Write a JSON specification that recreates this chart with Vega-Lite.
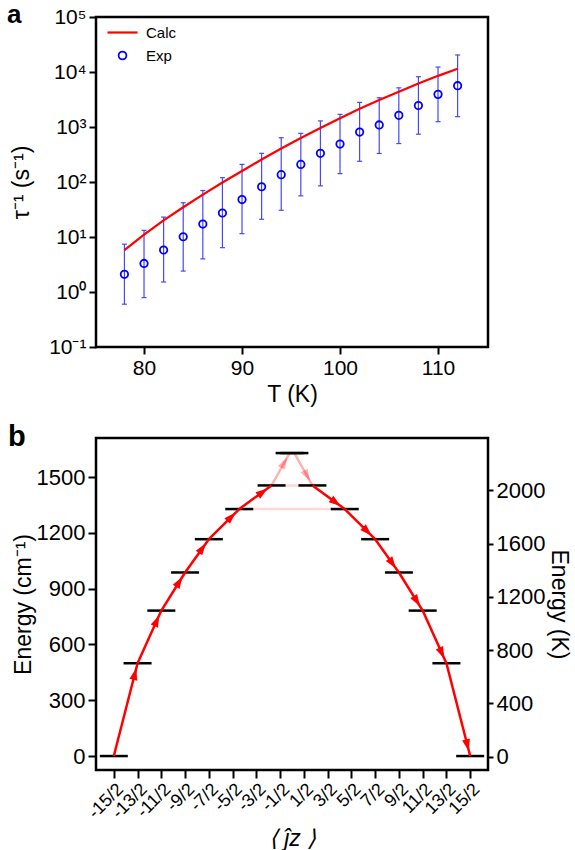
{
  "$schema": "https://vega.github.io/schema/vega-lite/v6.json",
  "background": "white",
  "padding": {"left": 5, "top": 0, "right": 5, "bottom": 0},
  "autosize": {"type": "pad"},
  "bounds": "flush",
  "spacing": 91,
  "config": {
    "font": "Liberation Sans",
    "view": {"stroke": "black", "strokeWidth": 2.5},
    "axis": {"domain": false, "grid": false, "tickColor": "black", "tickWidth": 2, "tickSize": 7, "labelColor": "black", "titleColor": "black", "labelFont": "Liberation Sans", "titleFont": "Liberation Sans", "labelFontSize": 21, "titleFontSize": 23, "titleFontWeight": "normal", "labelPadding": 3, "labelOverlap": false}
  },
  "datasets": {
    "calc": [
      {"T": 78, "rate": 5.75, "series": "Calc"}, {"T": 80, "rate": 11.0, "series": "Calc"}, {"T": 82, "rate": 20.0, "series": "Calc"},
      {"T": 84, "rate": 34.7, "series": "Calc"}, {"T": 86, "rate": 58.9, "series": "Calc"}, {"T": 88, "rate": 97.7, "series": "Calc"},
      {"T": 90, "rate": 158, "series": "Calc"}, {"T": 92, "rate": 257, "series": "Calc"}, {"T": 94, "rate": 407, "series": "Calc"},
      {"T": 96, "rate": 631, "series": "Calc"}, {"T": 98, "rate": 955, "series": "Calc"}, {"T": 100, "rate": 1445, "series": "Calc"},
      {"T": 102, "rate": 2138, "series": "Calc"}, {"T": 104, "rate": 3090, "series": "Calc"}, {"T": 106, "rate": 4365, "series": "Calc"},
      {"T": 108, "rate": 6166, "series": "Calc"}, {"T": 110, "rate": 8511, "series": "Calc"}, {"T": 112, "rate": 11482, "series": "Calc"}
    ],
    "exp": [
      {"T": 78, "rate": 2.1, "lo": 0.6, "hi": 7.4, "series": "Exp"},
      {"T": 80, "rate": 3.3, "lo": 0.79, "hi": 13.2, "series": "Exp"},
      {"T": 82, "rate": 5.8, "lo": 1.52, "hi": 23, "series": "Exp"},
      {"T": 84, "rate": 10.1, "lo": 2.4, "hi": 42, "series": "Exp"},
      {"T": 86, "rate": 17.2, "lo": 4.0, "hi": 70, "series": "Exp"},
      {"T": 88, "rate": 27.3, "lo": 6.4, "hi": 120, "series": "Exp"},
      {"T": 90, "rate": 48, "lo": 11.5, "hi": 209, "series": "Exp"},
      {"T": 92, "rate": 82, "lo": 21, "hi": 332, "series": "Exp"},
      {"T": 94, "rate": 136, "lo": 30.6, "hi": 638, "series": "Exp"},
      {"T": 96, "rate": 209, "lo": 56, "hi": 767, "series": "Exp"},
      {"T": 98, "rate": 332, "lo": 85, "hi": 1290, "series": "Exp"},
      {"T": 100, "rate": 490, "lo": 142, "hi": 1700, "series": "Exp"},
      {"T": 102, "rate": 810, "lo": 238, "hi": 2800, "series": "Exp"},
      {"T": 104, "rate": 1090, "lo": 330, "hi": 3400, "series": "Exp"},
      {"T": 106, "rate": 1630, "lo": 500, "hi": 5150, "series": "Exp"},
      {"T": 108, "rate": 2460, "lo": 740, "hi": 8200, "series": "Exp"},
      {"T": 110, "rate": 3920, "lo": 1250, "hi": 12300, "series": "Exp"},
      {"T": 112, "rate": 5630, "lo": 1540, "hi": 20400, "series": "Exp"}
    ],
    "levels": [
      {"jz": -7.5, "E": 0}, {"jz": 7.5, "E": 0},
      {"jz": -6.5, "E": 499}, {"jz": 6.5, "E": 499},
      {"jz": -5.5, "E": 782}, {"jz": 5.5, "E": 782},
      {"jz": -4.5, "E": 987}, {"jz": 4.5, "E": 987},
      {"jz": -3.5, "E": 1166}, {"jz": 3.5, "E": 1166},
      {"jz": -2.22, "E": 1328}, {"jz": 2.22, "E": 1328},
      {"jz": -0.86, "E": 1455}, {"jz": 0.86, "E": 1455},
      {"jz": -0.1, "E": 1629}, {"jz": 0.1, "E": 1629}
    ],
    "paths": [
      {"x1": -7.5, "e1": 0, "x2": -6.5, "e2": 499, "kind": "main"},
      {"x1": -6.5, "e1": 499, "x2": -5.5, "e2": 782, "kind": "main"},
      {"x1": -5.5, "e1": 782, "x2": -4.5, "e2": 987, "kind": "main"},
      {"x1": -4.5, "e1": 987, "x2": -3.5, "e2": 1166, "kind": "main"},
      {"x1": -3.5, "e1": 1166, "x2": -2.22, "e2": 1328, "kind": "main"},
      {"x1": -2.22, "e1": 1328, "x2": -0.86, "e2": 1455, "kind": "main"},
      {"x1": -0.86, "e1": 1455, "x2": -0.1, "e2": 1629, "kind": "orbach"},
      {"x1": 0.1, "e1": 1629, "x2": 0.86, "e2": 1455, "kind": "orbach"},
      {"x1": 0.86, "e1": 1455, "x2": 2.22, "e2": 1328, "kind": "main"},
      {"x1": 2.22, "e1": 1328, "x2": 3.5, "e2": 1166, "kind": "main"},
      {"x1": 3.5, "e1": 1166, "x2": 4.5, "e2": 987, "kind": "main"},
      {"x1": 4.5, "e1": 987, "x2": 5.5, "e2": 782, "kind": "main"},
      {"x1": 5.5, "e1": 782, "x2": 6.5, "e2": 499, "kind": "main"},
      {"x1": 6.5, "e1": 499, "x2": 7.5, "e2": 0, "kind": "main"},
      {"x1": -2.22, "e1": 1328, "x2": 2.22, "e2": 1328, "kind": "qtm"},
      {"x1": -0.86, "e1": 1455, "x2": 0.86, "e2": 1455, "kind": "qtm"}
    ]
  },
  "vconcat": [
    {
      "width": 392,
      "height": 330,
      "title": {"text": "a", "anchor": "start", "frame": "group", "fontSize": 26, "fontWeight": "bold", "color": "black", "dx": -89, "offset": -14, "dy": 29, "baseline": "alphabetic"},
      "layer": [
        {
          "data": {"name": "exp"},
          "mark": {"type": "rule", "color": "#4646ff", "strokeWidth": 1.2},
          "encoding": {
            "x": {"field": "T", "type": "quantitative", "scale": {"domain": [75.1, 115.1], "nice": false, "zero": false}, "axis": {"values": [80, 90, 100, 110], "title": "T (K)", "titlePadding": 5}},
            "y": {"field": "lo", "type": "quantitative", "scale": {"type": "log", "domain": [0.1, 100000], "nice": false}, "axis": {"values": [0.1, 1, 10, 100, 1000, 10000, 100000], "tickCount": 10, "title": "τ⁻¹ (s⁻¹)", "titleX": -63, "labelExpr": "datum.value < 0.5 ? '10⁻¹' : datum.value < 5 ? '10⁰' : datum.value < 50 ? '10¹' : datum.value < 500 ? '10²' : datum.value < 5000 ? '10³' : datum.value < 50000 ? '10⁴' : '10⁵'"}},
            "y2": {"field": "hi"}
          }
        },
        {
          "data": {"name": "exp"},
          "mark": {"type": "tick", "orient": "horizontal", "color": "#4646ff", "size": 5, "thickness": 1.2, "opacity": 1},
          "encoding": {
            "x": {"field": "T", "type": "quantitative"},
            "y": {"field": "lo", "type": "quantitative"}
          }
        },
        {
          "data": {"name": "exp"},
          "mark": {"type": "tick", "orient": "horizontal", "color": "#4646ff", "size": 5, "thickness": 1.2, "opacity": 1},
          "encoding": {
            "x": {"field": "T", "type": "quantitative"},
            "y": {"field": "hi", "type": "quantitative"}
          }
        },
        {
          "data": {"name": "calc"},
          "mark": {"type": "line", "strokeWidth": 2.2},
          "encoding": {
            "x": {"field": "T", "type": "quantitative"},
            "y": {"field": "rate", "type": "quantitative"},
            "color": {"field": "series", "type": "nominal", "scale": {"domain": ["Calc", "Exp"], "range": ["#ff0000", "#0000ff"]},
              "legend": {"orient": "none", "legendX": 19, "legendY": 8, "title": null, "labelFontSize": 15, "labelFont": "Liberation Sans", "labelColor": "black", "rowPadding": 7, "labelOffset": 16,
                "encode": {"symbols": {"update": {"size": {"signal": "datum.value === 'Calc' ? 900 : 60"}, "strokeWidth": {"signal": "datum.value === 'Calc' ? 2.2 : 1.8"}}}}}}
          }
        },
        {
          "data": {"name": "exp"},
          "mark": {"type": "point", "filled": false, "size": 55, "strokeWidth": 1.8, "opacity": 1},
          "encoding": {
            "x": {"field": "T", "type": "quantitative"},
            "y": {"field": "rate", "type": "quantitative"},
            "color": {"field": "series", "type": "nominal"},
            "shape": {"field": "series", "type": "nominal", "scale": {"domain": ["Calc", "Exp"], "range": ["stroke", "circle"]},
              "legend": {"orient": "none", "legendX": 19, "legendY": 8, "title": null, "labelFontSize": 15, "labelFont": "Liberation Sans", "labelColor": "black", "rowPadding": 7, "labelOffset": 16,
                "encode": {"symbols": {"update": {"size": {"signal": "datum.value === 'Calc' ? 900 : 60"}, "strokeWidth": {"signal": "datum.value === 'Calc' ? 2.2 : 1.8"}}}}}}
          }
        }
      ]
    },
    {
      "width": 392,
      "height": 332,
      "title": {"text": "b", "anchor": "start", "frame": "group", "fontSize": 29, "fontWeight": "bold", "color": "black", "dx": -88, "offset": -14, "dy": 23, "baseline": "alphabetic"},
      "resolve": {"scale": {"y": "independent"}},
      "layer": [
        {
          "layer": [
            {
              "data": {"name": "paths"},
              "transform": [{"filter": "datum.kind === 'qtm'"}],
              "mark": {"type": "rule", "color": "#ff0000", "opacity": 0.15, "strokeWidth": 2.5},
              "encoding": {
                "x": {"field": "x1", "type": "quantitative", "scale": {"domain": [-8.25, 8.25], "nice": false, "zero": false},
                  "axis": {"values": [-7.5, -6.5, -5.5, -4.5, -3.5, -2.5, -1.5, -0.5, 0.5, 1.5, 2.5, 3.5, 4.5, 5.5, 6.5, 7.5], "tickCount": 20, "labelExpr": "(datum.value * 2) + '/2'", "labelAngle": -45, "labelAlign": "right", "labelBaseline": "top", "labelFontSize": 18, "labelOverlap": false, "labelPadding": 2, "tickSize": 8, "title": "⟨ ĵz ⟩", "titleFontStyle": "italic", "titleY": 57}},
                "x2": {"field": "x2"},
                "y": {"field": "e1", "type": "quantitative", "scale": {"domain": [-75, 1710], "nice": false, "zero": false},
                  "axis": {"values": [0, 300, 600, 900, 1200, 1500], "format": "d", "labelFontSize": 22, "tickSize": 8, "title": "Energy (cm⁻¹)", "titleX": -61}},
                "y2": {"field": "e2"}
              }
            },
            {
              "data": {"name": "paths"},
              "transform": [{"filter": "datum.kind === 'orbach'"}],
              "mark": {"type": "rule", "color": "#ff0000", "opacity": 0.3, "strokeWidth": 2.5},
              "encoding": {
                "x": {"field": "x1", "type": "quantitative"},
                "x2": {"field": "x2"},
                "y": {"field": "e1", "type": "quantitative"},
                "y2": {"field": "e2"}
              }
            },
            {
              "data": {"name": "levels"},
              "mark": {"type": "tick", "orient": "horizontal", "color": "black", "size": 28, "thickness": 2.5, "opacity": 1},
              "encoding": {
                "x": {"field": "jz", "type": "quantitative"},
                "y": {"field": "E", "type": "quantitative"}
              }
            },
            {
              "data": {"name": "paths"},
              "transform": [{"filter": "datum.kind === 'main'"}],
              "mark": {"type": "rule", "color": "#ff0000", "strokeWidth": 2.5},
              "encoding": {
                "x": {"field": "x1", "type": "quantitative"},
                "x2": {"field": "x2"},
                "y": {"field": "e1", "type": "quantitative"},
                "y2": {"field": "e2"}
              }
            },
            {
              "data": {"name": "paths"},
              "transform": [
                {"filter": "datum.kind !== 'qtm'"},
                {"calculate": "atan2(-(datum.e2 - datum.e1) * 332 / 1785, (datum.x2 - datum.x1) * 392 / 16.5) * 180 / PI", "as": "ang"},
                {"calculate": "datum.kind === 'main' ? 1 : 0.3", "as": "op"}
              ],
              "mark": {"type": "point", "shape": "M-1,0 L-3.4,-0.8 L-3.4,0.8 Z", "filled": true, "color": "#ff0000", "size": 100, "strokeWidth": 0},
              "encoding": {
                "x": {"field": "x2", "type": "quantitative"},
                "y": {"field": "e2", "type": "quantitative"},
                "angle": {"field": "ang", "type": "quantitative", "scale": null},
                "opacity": {"field": "op", "type": "quantitative", "scale": null, "legend": null}
              }
            }
          ]
        },
        {
          "mark": {"type": "rule", "opacity": 0},
          "encoding": {
            "y": {"datum": 0, "type": "quantitative", "scale": {"domain": [-101, 2393], "nice": false, "zero": false},
              "axis": {"orient": "right", "values": [0, 400, 800, 1200, 1600, 2000], "format": "d", "labelFontSize": 22, "title": "Energy (K)", "tickSize": 5, "titleX": 58}}
          }
        }
      ]
    }
  ]
}
